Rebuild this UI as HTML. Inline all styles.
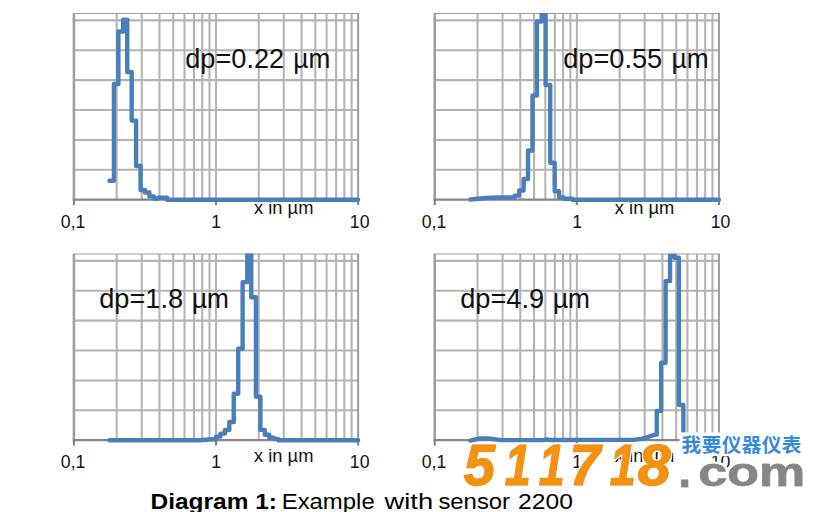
<!DOCTYPE html>
<html lang="en">
<head>
<meta charset="utf-8">
<title>Diagram 1: Example with sensor 2200</title>
<style>
html,body{margin:0;padding:0;background:#fff;}
body{width:829px;height:512px;overflow:hidden;}
svg{display:block;}
.tick text{font-family:"Liberation Sans", Arial, Helvetica, sans-serif;font-size:18.6px;fill:#111;}
.big text{font-family:"Liberation Sans", Arial, Helvetica, sans-serif;font-size:27.2px;fill:#111;}
.cap text{font-family:"Liberation Sans", Arial, Helvetica, sans-serif;font-size:22.8px;fill:#000;}
.cap .b{font-weight:bold;}
.wm-num{font-family:"Liberation Sans", Arial, Helvetica, sans-serif;font-weight:bold;font-style:italic;font-size:57px;fill:#f39310;stroke:#f39310;stroke-width:1.6px;stroke-linejoin:round;}
.wm-com{font-family:"Liberation Sans", Arial, Helvetica, sans-serif;font-weight:bold;font-size:40.2px;fill:#868686;stroke:#868686;stroke-width:0.8px;stroke-linejoin:round;}
.wm-cn{font-family:"Liberation Sans", "Noto Sans CJK SC", "WenQuanYi Zen Hei", sans-serif;font-weight:bold;font-size:19.6px;fill:#3489e0;}
</style>
</head>
<body>
<svg width="829" height="512" viewBox="0 0 829 512">
<rect width="829" height="512" fill="#fff"/>
<defs>
<clipPath id="k1"><rect x="69.9" y="13.1" width="294.2" height="200"/></clipPath>
<clipPath id="k2"><rect x="430.75" y="13.1" width="294.2" height="200"/></clipPath>
<clipPath id="k3"><rect x="69.9" y="253.6" width="294.2" height="200"/></clipPath>
<clipPath id="k4"><rect x="430.75" y="253.6" width="294.2" height="200"/></clipPath>
<filter id="halo" x="-5%" y="-15%" width="110%" height="130%"><feMorphology in="SourceAlpha" operator="dilate" radius="1" result="d"/><feFlood flood-color="#fff" result="w"/><feComposite in="w" in2="d" operator="in" result="h"/><feMerge><feMergeNode in="h"/><feMergeNode in="SourceGraphic"/></feMerge></filter>
<filter id="halo2" x="-5%" y="-15%" width="110%" height="130%"><feMorphology in="SourceAlpha" operator="dilate" radius="1.6" result="d"/><feFlood flood-color="#fff" result="w"/><feComposite in="w" in2="d" operator="in" result="h"/><feMerge><feMergeNode in="h"/><feMergeNode in="SourceGraphic"/></feMerge></filter>
</defs>

<g><line x1="73.9" y1="20.35" x2="358.1" y2="20.35" stroke="#b3b3b3" stroke-width="2.05"/>
<line x1="73.9" y1="50.24" x2="358.1" y2="50.24" stroke="#b3b3b3" stroke-width="2.05"/>
<line x1="73.9" y1="80.13" x2="358.1" y2="80.13" stroke="#b3b3b3" stroke-width="2.05"/>
<line x1="73.9" y1="110.02" x2="358.1" y2="110.02" stroke="#b3b3b3" stroke-width="2.05"/>
<line x1="73.9" y1="139.91" x2="358.1" y2="139.91" stroke="#b3b3b3" stroke-width="2.05"/>
<line x1="73.9" y1="169.8" x2="358.1" y2="169.8" stroke="#b3b3b3" stroke-width="2.05"/>
<line x1="116.68" y1="13.5" x2="116.68" y2="199.65" stroke="#b3b3b3" stroke-width="2.05"/>
<line x1="141.7" y1="13.5" x2="141.7" y2="199.65" stroke="#b3b3b3" stroke-width="2.05"/>
<line x1="159.45" y1="13.5" x2="159.45" y2="199.65" stroke="#b3b3b3" stroke-width="2.05"/>
<line x1="173.22" y1="13.5" x2="173.22" y2="199.65" stroke="#b3b3b3" stroke-width="2.05"/>
<line x1="184.48" y1="13.5" x2="184.48" y2="199.65" stroke="#b3b3b3" stroke-width="2.05"/>
<line x1="193.99" y1="13.5" x2="193.99" y2="199.65" stroke="#b3b3b3" stroke-width="2.05"/>
<line x1="202.23" y1="13.5" x2="202.23" y2="199.65" stroke="#b3b3b3" stroke-width="2.05"/>
<line x1="209.5" y1="13.5" x2="209.5" y2="199.65" stroke="#b3b3b3" stroke-width="2.05"/>
<line x1="258.78" y1="13.5" x2="258.78" y2="199.65" stroke="#b3b3b3" stroke-width="2.05"/>
<line x1="283.8" y1="13.5" x2="283.8" y2="199.65" stroke="#b3b3b3" stroke-width="2.05"/>
<line x1="301.55" y1="13.5" x2="301.55" y2="199.65" stroke="#b3b3b3" stroke-width="2.05"/>
<line x1="315.32" y1="13.5" x2="315.32" y2="199.65" stroke="#b3b3b3" stroke-width="2.05"/>
<line x1="326.58" y1="13.5" x2="326.58" y2="199.65" stroke="#b3b3b3" stroke-width="2.05"/>
<line x1="336.09" y1="13.5" x2="336.09" y2="199.65" stroke="#b3b3b3" stroke-width="2.05"/>
<line x1="344.33" y1="13.5" x2="344.33" y2="199.65" stroke="#b3b3b3" stroke-width="2.05"/>
<line x1="351.6" y1="13.5" x2="351.6" y2="199.65" stroke="#b3b3b3" stroke-width="2.05"/>
<line x1="216" y1="13.5" x2="216" y2="199.65" stroke="#b3b3b3" stroke-width="2.05"/>
<line x1="72.9" y1="13.5" x2="359.1" y2="13.5" stroke="#9c9c9c" stroke-width="1.2"/>
<line x1="358.1" y1="13.5" x2="358.1" y2="199.65" stroke="#9c9c9c" stroke-width="2"/>
<line x1="73.9" y1="13.5" x2="73.9" y2="199.65" stroke="#9c9c9c" stroke-width="2.5"/>
<line x1="72.8" y1="199.65" x2="359.1" y2="199.65" stroke="#868686" stroke-width="2.4"/>
<line x1="73.9" y1="199.65" x2="73.9" y2="205.05" stroke="#7d7d7d" stroke-width="2"/>
<line x1="216" y1="199.65" x2="216" y2="205.05" stroke="#7d7d7d" stroke-width="2"/>
<line x1="358.1" y1="199.65" x2="358.1" y2="205.05" stroke="#7d7d7d" stroke-width="2"/></g>
<g><line x1="434.75" y1="20.35" x2="718.95" y2="20.35" stroke="#b3b3b3" stroke-width="2.05"/>
<line x1="434.75" y1="50.24" x2="718.95" y2="50.24" stroke="#b3b3b3" stroke-width="2.05"/>
<line x1="434.75" y1="80.13" x2="718.95" y2="80.13" stroke="#b3b3b3" stroke-width="2.05"/>
<line x1="434.75" y1="110.02" x2="718.95" y2="110.02" stroke="#b3b3b3" stroke-width="2.05"/>
<line x1="434.75" y1="139.91" x2="718.95" y2="139.91" stroke="#b3b3b3" stroke-width="2.05"/>
<line x1="434.75" y1="169.8" x2="718.95" y2="169.8" stroke="#b3b3b3" stroke-width="2.05"/>
<line x1="477.53" y1="13.5" x2="477.53" y2="199.65" stroke="#b3b3b3" stroke-width="2.05"/>
<line x1="502.55" y1="13.5" x2="502.55" y2="199.65" stroke="#b3b3b3" stroke-width="2.05"/>
<line x1="520.3" y1="13.5" x2="520.3" y2="199.65" stroke="#b3b3b3" stroke-width="2.05"/>
<line x1="534.07" y1="13.5" x2="534.07" y2="199.65" stroke="#b3b3b3" stroke-width="2.05"/>
<line x1="545.33" y1="13.5" x2="545.33" y2="199.65" stroke="#b3b3b3" stroke-width="2.05"/>
<line x1="554.84" y1="13.5" x2="554.84" y2="199.65" stroke="#b3b3b3" stroke-width="2.05"/>
<line x1="563.08" y1="13.5" x2="563.08" y2="199.65" stroke="#b3b3b3" stroke-width="2.05"/>
<line x1="570.35" y1="13.5" x2="570.35" y2="199.65" stroke="#b3b3b3" stroke-width="2.05"/>
<line x1="619.63" y1="13.5" x2="619.63" y2="199.65" stroke="#b3b3b3" stroke-width="2.05"/>
<line x1="644.65" y1="13.5" x2="644.65" y2="199.65" stroke="#b3b3b3" stroke-width="2.05"/>
<line x1="662.4" y1="13.5" x2="662.4" y2="199.65" stroke="#b3b3b3" stroke-width="2.05"/>
<line x1="676.17" y1="13.5" x2="676.17" y2="199.65" stroke="#b3b3b3" stroke-width="2.05"/>
<line x1="687.43" y1="13.5" x2="687.43" y2="199.65" stroke="#b3b3b3" stroke-width="2.05"/>
<line x1="696.94" y1="13.5" x2="696.94" y2="199.65" stroke="#b3b3b3" stroke-width="2.05"/>
<line x1="705.18" y1="13.5" x2="705.18" y2="199.65" stroke="#b3b3b3" stroke-width="2.05"/>
<line x1="712.45" y1="13.5" x2="712.45" y2="199.65" stroke="#b3b3b3" stroke-width="2.05"/>
<line x1="576.85" y1="13.5" x2="576.85" y2="199.65" stroke="#b3b3b3" stroke-width="2.05"/>
<line x1="433.75" y1="13.5" x2="719.95" y2="13.5" stroke="#9c9c9c" stroke-width="1.2"/>
<line x1="718.95" y1="13.5" x2="718.95" y2="199.65" stroke="#9c9c9c" stroke-width="2"/>
<line x1="434.75" y1="13.5" x2="434.75" y2="199.65" stroke="#9c9c9c" stroke-width="2.5"/>
<line x1="433.65" y1="199.65" x2="719.95" y2="199.65" stroke="#868686" stroke-width="2.4"/>
<line x1="434.75" y1="199.65" x2="434.75" y2="205.05" stroke="#7d7d7d" stroke-width="2"/>
<line x1="576.85" y1="199.65" x2="576.85" y2="205.05" stroke="#7d7d7d" stroke-width="2"/>
<line x1="718.95" y1="199.65" x2="718.95" y2="205.05" stroke="#7d7d7d" stroke-width="2"/></g>
<g><line x1="73.9" y1="260.85" x2="358.1" y2="260.85" stroke="#b3b3b3" stroke-width="2.05"/>
<line x1="73.9" y1="290.74" x2="358.1" y2="290.74" stroke="#b3b3b3" stroke-width="2.05"/>
<line x1="73.9" y1="320.63" x2="358.1" y2="320.63" stroke="#b3b3b3" stroke-width="2.05"/>
<line x1="73.9" y1="350.52" x2="358.1" y2="350.52" stroke="#b3b3b3" stroke-width="2.05"/>
<line x1="73.9" y1="380.41" x2="358.1" y2="380.41" stroke="#b3b3b3" stroke-width="2.05"/>
<line x1="73.9" y1="410.3" x2="358.1" y2="410.3" stroke="#b3b3b3" stroke-width="2.05"/>
<line x1="116.68" y1="254" x2="116.68" y2="440.15" stroke="#b3b3b3" stroke-width="2.05"/>
<line x1="141.7" y1="254" x2="141.7" y2="440.15" stroke="#b3b3b3" stroke-width="2.05"/>
<line x1="159.45" y1="254" x2="159.45" y2="440.15" stroke="#b3b3b3" stroke-width="2.05"/>
<line x1="173.22" y1="254" x2="173.22" y2="440.15" stroke="#b3b3b3" stroke-width="2.05"/>
<line x1="184.48" y1="254" x2="184.48" y2="440.15" stroke="#b3b3b3" stroke-width="2.05"/>
<line x1="193.99" y1="254" x2="193.99" y2="440.15" stroke="#b3b3b3" stroke-width="2.05"/>
<line x1="202.23" y1="254" x2="202.23" y2="440.15" stroke="#b3b3b3" stroke-width="2.05"/>
<line x1="209.5" y1="254" x2="209.5" y2="440.15" stroke="#b3b3b3" stroke-width="2.05"/>
<line x1="258.78" y1="254" x2="258.78" y2="440.15" stroke="#b3b3b3" stroke-width="2.05"/>
<line x1="283.8" y1="254" x2="283.8" y2="440.15" stroke="#b3b3b3" stroke-width="2.05"/>
<line x1="301.55" y1="254" x2="301.55" y2="440.15" stroke="#b3b3b3" stroke-width="2.05"/>
<line x1="315.32" y1="254" x2="315.32" y2="440.15" stroke="#b3b3b3" stroke-width="2.05"/>
<line x1="326.58" y1="254" x2="326.58" y2="440.15" stroke="#b3b3b3" stroke-width="2.05"/>
<line x1="336.09" y1="254" x2="336.09" y2="440.15" stroke="#b3b3b3" stroke-width="2.05"/>
<line x1="344.33" y1="254" x2="344.33" y2="440.15" stroke="#b3b3b3" stroke-width="2.05"/>
<line x1="351.6" y1="254" x2="351.6" y2="440.15" stroke="#b3b3b3" stroke-width="2.05"/>
<line x1="216" y1="254" x2="216" y2="440.15" stroke="#b3b3b3" stroke-width="2.05"/>
<line x1="72.9" y1="254" x2="359.1" y2="254" stroke="#9c9c9c" stroke-width="1.2"/>
<line x1="358.1" y1="254" x2="358.1" y2="440.15" stroke="#9c9c9c" stroke-width="2"/>
<line x1="73.9" y1="254" x2="73.9" y2="440.15" stroke="#9c9c9c" stroke-width="2.5"/>
<line x1="72.8" y1="440.15" x2="359.1" y2="440.15" stroke="#868686" stroke-width="2.4"/>
<line x1="73.9" y1="440.15" x2="73.9" y2="445.55" stroke="#7d7d7d" stroke-width="2"/>
<line x1="216" y1="440.15" x2="216" y2="445.55" stroke="#7d7d7d" stroke-width="2"/>
<line x1="358.1" y1="440.15" x2="358.1" y2="445.55" stroke="#7d7d7d" stroke-width="2"/></g>
<g><line x1="434.75" y1="260.85" x2="718.95" y2="260.85" stroke="#b3b3b3" stroke-width="2.05"/>
<line x1="434.75" y1="290.74" x2="718.95" y2="290.74" stroke="#b3b3b3" stroke-width="2.05"/>
<line x1="434.75" y1="320.63" x2="718.95" y2="320.63" stroke="#b3b3b3" stroke-width="2.05"/>
<line x1="434.75" y1="350.52" x2="718.95" y2="350.52" stroke="#b3b3b3" stroke-width="2.05"/>
<line x1="434.75" y1="380.41" x2="718.95" y2="380.41" stroke="#b3b3b3" stroke-width="2.05"/>
<line x1="434.75" y1="410.3" x2="718.95" y2="410.3" stroke="#b3b3b3" stroke-width="2.05"/>
<line x1="477.53" y1="254" x2="477.53" y2="440.15" stroke="#b3b3b3" stroke-width="2.05"/>
<line x1="502.55" y1="254" x2="502.55" y2="440.15" stroke="#b3b3b3" stroke-width="2.05"/>
<line x1="520.3" y1="254" x2="520.3" y2="440.15" stroke="#b3b3b3" stroke-width="2.05"/>
<line x1="534.07" y1="254" x2="534.07" y2="440.15" stroke="#b3b3b3" stroke-width="2.05"/>
<line x1="545.33" y1="254" x2="545.33" y2="440.15" stroke="#b3b3b3" stroke-width="2.05"/>
<line x1="554.84" y1="254" x2="554.84" y2="440.15" stroke="#b3b3b3" stroke-width="2.05"/>
<line x1="563.08" y1="254" x2="563.08" y2="440.15" stroke="#b3b3b3" stroke-width="2.05"/>
<line x1="570.35" y1="254" x2="570.35" y2="440.15" stroke="#b3b3b3" stroke-width="2.05"/>
<line x1="619.63" y1="254" x2="619.63" y2="440.15" stroke="#b3b3b3" stroke-width="2.05"/>
<line x1="644.65" y1="254" x2="644.65" y2="440.15" stroke="#b3b3b3" stroke-width="2.05"/>
<line x1="662.4" y1="254" x2="662.4" y2="440.15" stroke="#b3b3b3" stroke-width="2.05"/>
<line x1="676.17" y1="254" x2="676.17" y2="440.15" stroke="#b3b3b3" stroke-width="2.05"/>
<line x1="687.43" y1="254" x2="687.43" y2="440.15" stroke="#b3b3b3" stroke-width="2.05"/>
<line x1="696.94" y1="254" x2="696.94" y2="440.15" stroke="#b3b3b3" stroke-width="2.05"/>
<line x1="705.18" y1="254" x2="705.18" y2="440.15" stroke="#b3b3b3" stroke-width="2.05"/>
<line x1="712.45" y1="254" x2="712.45" y2="440.15" stroke="#b3b3b3" stroke-width="2.05"/>
<line x1="576.85" y1="254" x2="576.85" y2="440.15" stroke="#b3b3b3" stroke-width="2.05"/>
<line x1="433.75" y1="254" x2="719.95" y2="254" stroke="#9c9c9c" stroke-width="1.2"/>
<line x1="718.95" y1="254" x2="718.95" y2="440.15" stroke="#9c9c9c" stroke-width="2"/>
<line x1="434.75" y1="254" x2="434.75" y2="440.15" stroke="#9c9c9c" stroke-width="2.5"/>
<line x1="433.65" y1="440.15" x2="719.95" y2="440.15" stroke="#868686" stroke-width="2.4"/>
<line x1="434.75" y1="440.15" x2="434.75" y2="445.55" stroke="#7d7d7d" stroke-width="2"/>
<line x1="576.85" y1="440.15" x2="576.85" y2="445.55" stroke="#7d7d7d" stroke-width="2"/>
<line x1="718.95" y1="440.15" x2="718.95" y2="445.55" stroke="#7d7d7d" stroke-width="2"/></g>
<g class="tick">
<text x="60.8" y="227.8" textLength="24.6" lengthAdjust="spacingAndGlyphs">0,1</text>
<text x="211.3" y="227.8" textLength="9.8" lengthAdjust="spacingAndGlyphs">1</text>
<text x="349.8" y="227.8" textLength="19.7" lengthAdjust="spacingAndGlyphs">10</text>
<text x="254" y="213.7" textLength="59.4" lengthAdjust="spacingAndGlyphs">x in µm</text>
<text x="421.65" y="227.8" textLength="24.6" lengthAdjust="spacingAndGlyphs">0,1</text>
<text x="572.15" y="227.8" textLength="9.8" lengthAdjust="spacingAndGlyphs">1</text>
<text x="710.65" y="227.8" textLength="19.7" lengthAdjust="spacingAndGlyphs">10</text>
<text x="614.85" y="213.7" textLength="59.4" lengthAdjust="spacingAndGlyphs">x in µm</text>
<text x="60.8" y="468.3" textLength="24.6" lengthAdjust="spacingAndGlyphs">0,1</text>
<text x="211.3" y="468.3" textLength="9.8" lengthAdjust="spacingAndGlyphs">1</text>
<text x="349.8" y="468.3" textLength="19.7" lengthAdjust="spacingAndGlyphs">10</text>
<text x="254" y="461.8" textLength="59.4" lengthAdjust="spacingAndGlyphs">x in µm</text>
<text x="421.65" y="468.3" textLength="24.6" lengthAdjust="spacingAndGlyphs">0,1</text>
<text x="572.15" y="468.3" textLength="9.8" lengthAdjust="spacingAndGlyphs">1</text>
<text x="710.65" y="468.3" textLength="19.7" lengthAdjust="spacingAndGlyphs">10</text>
<text x="614.85" y="461.8" textLength="59.4" lengthAdjust="spacingAndGlyphs">x in µm</text>
</g>
<path d="M109.5 180.7 L113.94 180.7 L113.94 84 L118.38 84 L118.38 31.5 L123.17 31.5 L123.17 19.8 L127.25 19.8 L127.25 72 L131.69 72 L131.69 120.6 L136.12 120.6 L136.12 166 L140.56 166 L140.56 190 L145 190 L145 192.5 L149.44 192.5 L149.44 196.4 L153.88 196.4 L153.88 198.6 L158.31 198.6 L158.31 197.7 L167.19 197.7 L167.19 199.8 L358.1 199.8" fill="none" stroke="#4a7ebb" stroke-width="4.4" stroke-linecap="round" stroke-linejoin="round" clip-path="url(#k1)"/>
<path d="M470.35 199.5 L485.35 198 L498.35 197.5 L513.23 197.4 L514.73 197.4 L514.73 195.6 L519.16 195.6 L519.16 190.5 L523.6 190.5 L523.6 179 L528.04 179 L528.04 150.5 L532.48 150.5 L532.48 95.5 L536.91 95.5 L536.91 21.5 L541.71 21.5 L541.71 5 L545.57 5 L545.57 85 L550.23 85 L550.23 162.7 L554.66 162.7 L554.66 191.3 L559.1 191.3 L559.1 197.4 L563.54 197.4 L563.54 198.8 L572.41 198.8 L572.41 199.8 L718.95 199.8" fill="none" stroke="#4a7ebb" stroke-width="4.4" stroke-linecap="round" stroke-linejoin="round" clip-path="url(#k2)"/>
<path d="M109.5 440.3 L199.5 440.3 L211.56 439.3 L216 439.3 L216 436.6 L220.44 436.6 L220.44 433.6 L224.88 433.6 L224.88 430 L229.31 430 L229.31 422 L233.75 422 L233.75 393.7 L238.19 393.7 L238.19 348.8 L242.62 348.8 L242.62 282.1 L247.28 282.1 L247.28 245 L251.28 245 L251.28 297.3 L255.94 297.3 L255.94 396.6 L260.38 396.6 L260.38 429.9 L264.81 429.9 L264.81 434.8 L269.25 434.8 L269.25 437.7 L273.69 437.7 L273.69 438.9 L278.12 438.9 L278.12 440.3 L358.1 440.3" fill="none" stroke="#4a7ebb" stroke-width="4.4" stroke-linecap="round" stroke-linejoin="round" clip-path="url(#k3)"/>
<path d="M470.35 440.6 L479.35 438.5 L488.35 438.5 L501.35 440.1 L544.35 440 L546.35 439.3 L549.35 440 L635.35 439.7 L642.35 438.6 L648.35 436.8 L654.93 434.6 L656.73 434.6 L656.73 410.9 L661.16 410.9 L661.16 362.8 L665.6 362.8 L665.6 281.1 L670.04 281.1 L670.04 255.4 L674.48 255.4 L674.48 257.8 L678.91 257.8 L678.91 405 L683.35 405 L683.35 440.3 L718.95 440.3" fill="none" stroke="#4a7ebb" stroke-width="4.4" stroke-linecap="round" stroke-linejoin="round" clip-path="url(#k4)"/>
<g class="big">
<text x="185.2" y="67.8">dp=0.22</text><text x="293.3" y="67.8" textLength="37" lengthAdjust="spacingAndGlyphs">µm</text>
<text x="563.2" y="67.6">dp=0.55</text><text x="671.5" y="67.6" textLength="37" lengthAdjust="spacingAndGlyphs">µm</text>
<text x="99.2" y="307.9">dp=1.8</text><text x="191.9" y="307.9" textLength="37" lengthAdjust="spacingAndGlyphs">µm</text>
<text x="460.2" y="307.9">dp=4.9</text><text x="552.9" y="307.9" textLength="37" lengthAdjust="spacingAndGlyphs">µm</text>
</g>
<g class="cap">
<text class="b" x="150.6" y="508.6" textLength="126.3" lengthAdjust="spacingAndGlyphs">Diagram 1:</text>
<text class="" x="281.7" y="508.6" textLength="93" lengthAdjust="spacingAndGlyphs">Example</text>
<text class="" x="384.5" y="508.6" textLength="48.6" lengthAdjust="spacingAndGlyphs">with</text>
<text class="" x="438.4" y="508.6" textLength="71.7" lengthAdjust="spacingAndGlyphs">sensor</text>
<text class="" x="518.1" y="508.6" textLength="54.8" lengthAdjust="spacingAndGlyphs">2200</text>
</g>
<g>
<rect x="679.6" y="432.4" width="135" height="23.8" fill="#fff"/>
<g filter="url(#halo)">
<text class="wm-num" transform="translate(463.7 485.1) scale(0.987 1)">5</text>
<text class="wm-num" transform="translate(504.8 485.1) scale(0.82 1)">1</text>
<text class="wm-num" transform="translate(538.7 485.1) scale(0.82 1)">1</text>
<text class="wm-num" transform="translate(569.4 485.1) scale(0.973 1)">7</text>
<text class="wm-num" transform="translate(609.7 485.1) scale(0.82 1)">1</text>
<text class="wm-num" transform="translate(637.8 485.1) scale(1.036 1)">8</text>
</g>
<g filter="url(#halo2)">
<text class="wm-com" transform="translate(678.1 487)" style="font-size:48px">.</text>
<text class="wm-com" transform="translate(698.3 485.9) scale(1.295 1)">com</text>
</g>
<text class="wm-cn" x="681.6" y="452.4" textLength="119.8" lengthAdjust="spacing">我要仪器仪表</text>
</g>
</svg>
</body>
</html>
